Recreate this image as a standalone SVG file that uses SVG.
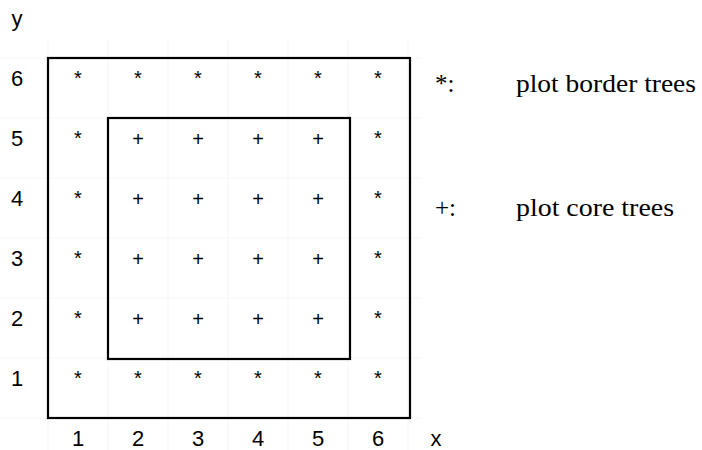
<svg xmlns="http://www.w3.org/2000/svg" width="702" height="450" viewBox="0 0 702 450">
<style>
.lab{font-family:"Liberation Sans Narrow","Arial Narrow","Liberation Sans",Arial,sans-serif;font-size:22px;fill:#000;text-anchor:middle}
.mk{font-family:"Liberation Sans",Arial,sans-serif;fill:#000;text-anchor:middle}
.st{font-size:20px}
.pl{font-size:20px}
.leg{font-family:"Liberation Serif","Times New Roman",serif;font-size:25px;fill:#000}
.grid{stroke:#f5f5f5;stroke-width:1;fill:none}
.box{stroke:#000;stroke-width:2.2;fill:none}
</style>
<rect width="702" height="450" fill="#fff"/>
<g id="grid" class="grid">
<path d="M48,40V450M108,40V450M168,40V450M228,40V450M288,40V450M348,40V450M408,40V450M0,58H420M0,118H420M0,178H420M0,238H420M0,298H420M0,358H420M0,418H420"/>
</g>
<g id="connectors">
<rect id="outer-plot" class="box" x="48" y="58" width="362" height="360"/>
<rect id="core-plot" class="box" x="108" y="118" width="242" height="241"/>
</g>
<g id="axis-y" class="lab">
<text x="17" y="26">y</text>
<text x="17" y="86">6</text>
<text x="17" y="146">5</text>
<text x="17" y="206">4</text>
<text x="17" y="266">3</text>
<text x="17" y="326">2</text>
<text x="17" y="386">1</text>
</g>
<g id="axis-x" class="lab">
<text x="78" y="446">1</text>
<text x="138" y="446">2</text>
<text x="198" y="446">3</text>
<text x="258" y="446">4</text>
<text x="318" y="446">5</text>
<text x="378" y="446">6</text>
<text x="436" y="446">x</text>
</g>
<g id="border-trees" class="mk st">
<text x="78" y="85">*</text><text x="138" y="85">*</text><text x="198" y="85">*</text><text x="258" y="85">*</text><text x="318" y="85">*</text><text x="378" y="85">*</text>
<text x="78" y="145">*</text><text x="378" y="145">*</text>
<text x="78" y="205">*</text><text x="378" y="205">*</text>
<text x="78" y="265">*</text><text x="378" y="265">*</text>
<text x="78" y="325">*</text><text x="378" y="325">*</text>
<text x="78" y="385">*</text><text x="138" y="385">*</text><text x="198" y="385">*</text><text x="258" y="385">*</text><text x="318" y="385">*</text><text x="378" y="385">*</text>
</g>
<g id="core-trees" class="mk pl">
<text x="138" y="146">+</text><text x="198" y="146">+</text><text x="258" y="146">+</text><text x="318" y="146">+</text>
<text x="138" y="206">+</text><text x="198" y="206">+</text><text x="258" y="206">+</text><text x="318" y="206">+</text>
<text x="138" y="266">+</text><text x="198" y="266">+</text><text x="258" y="266">+</text><text x="318" y="266">+</text>
<text x="138" y="326">+</text><text x="198" y="326">+</text><text x="258" y="326">+</text><text x="318" y="326">+</text>
</g>
<g id="legend-border" class="leg">
<text x="435" y="92">*:</text>
<text x="516" y="92" textLength="180" lengthAdjust="spacingAndGlyphs">plot border trees</text>
</g>
<g id="legend-core" class="leg">
<text x="435" y="216">+:</text>
<text x="516" y="216" textLength="158" lengthAdjust="spacingAndGlyphs">plot core trees</text>
</g>
</svg>
